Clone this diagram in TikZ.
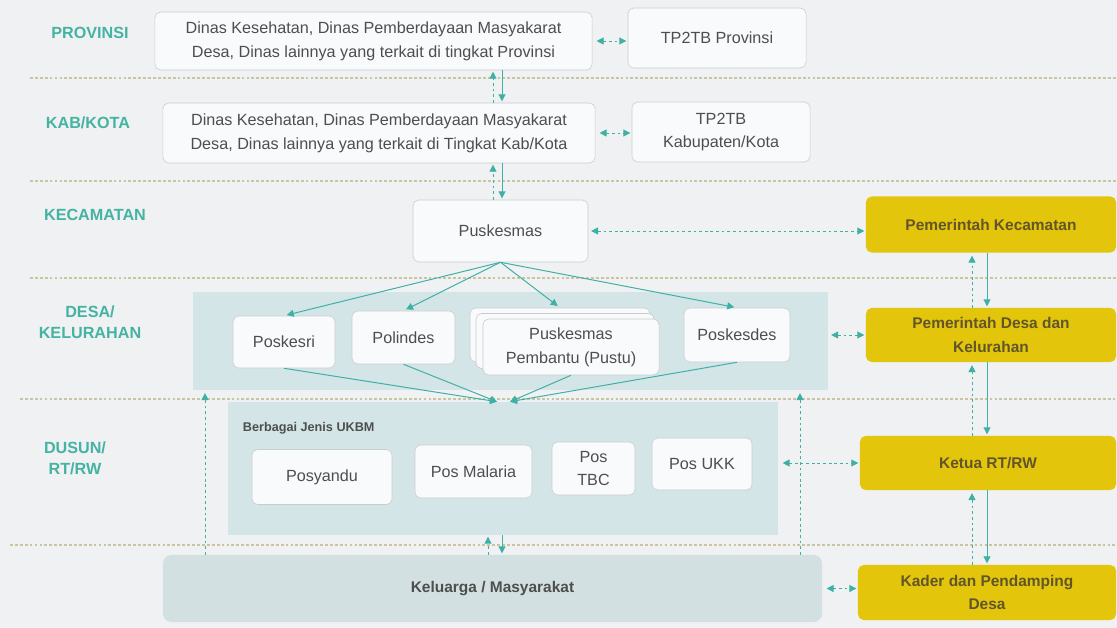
\documentclass[tikz,border=0pt]{standalone}
\usepackage{fontspec}
\setmainfont{Liberation Sans}
\usetikzlibrary{arrows.meta}
\definecolor{bgc}{HTML}{F0F1F3}
\definecolor{boxline}{HTML}{C9CBCE}
\definecolor{boxfill}{HTML}{F9FAFB}
\definecolor{txt}{HTML}{4E4E4E}
\definecolor{bandc}{HTML}{D3E5E6}
\definecolor{kelc}{HTML}{D2E0E2}
\definecolor{ylw}{HTML}{E3C50B}
\definecolor{ytxt}{HTML}{62552A}
\definecolor{tealtxt}{HTML}{45B3A2}
\definecolor{tealln}{HTML}{3FB0A5}
\definecolor{sepc}{HTML}{C9C4A2}
\tikzset{>={Triangle[length=5pt,width=5pt]}}
\tikzset{
  box/.style={draw=boxline, fill=boxfill, rounded corners=4pt, text=txt, align=center,
    font=\fontsize{11.5}{17}\selectfont, inner sep=0pt},
  ybox/.style={fill=ylw, rounded corners=4pt, text=ytxt, align=center,
    font=\fontsize{11}{17}\selectfont\bfseries, inner sep=0pt},
  band/.style={fill=bandc, inner sep=0pt},
  lvl/.style={text=tealtxt, align=center, font=\fontsize{11.5}{15}\selectfont\bfseries},
  sepline/.style={draw=sepc, dash pattern=on 2pt off 1.5pt, line width=0.8pt},
  link/.style={draw=tealln, line width=0.7pt},
  dlink/.style={link, dash pattern=on 2pt off 2pt},
}

\begin{document}
\begin{tikzpicture}[x=0.025cm,y=-0.025cm]
    \fill[bgc] (0,0) rectangle (1117,628);
    \useasboundingbox (0,0) rectangle (1117,628);
    \foreach \yy/\xx in {78/30,181/30,278/30,399/20,545/10}
        \draw[sepline] (\xx,\yy) -- (1117,\yy);

    \node[lvl] (lprov) at (90,33) {PROVINSI};
    \node[lvl] (lkab) at (88,123) {KAB/KOTA};
    \node[lvl] (lkec) at (95,215) {KECAMATAN};
    \node[lvl] (ldesa) at (90,322) {DESA/\\KELURAHAN};
    \node[lvl] (ldusun) at (75,458) {DUSUN/\\RT/RW};

    \node[band, minimum width=15.875cm, minimum height=2.45cm] (desa) at (510.5,341) {};
    \node[band, minimum width=13.75cm, minimum height=3.325cm] (ukbm) at (503,468.5) {};
    \node[anchor=west, text=txt, font=\fontsize{9}{11}\selectfont\bfseries] (ukbmlbl) at (238,428) {Berbagai Jenis UKBM};
    \node[band, fill=kelc, rounded corners=6pt, text=txt, font=\fontsize{11}{14}\selectfont\bfseries,
        minimum width=16.475cm, minimum height=1.675cm] (kel) at (492.5,588.5) {Keluarga / Masyarakat};

    \node[box, minimum width=10.925cm, minimum height=1.45cm] (prov) at (373.5,41)
        {Dinas Kesehatan, Dinas Pemberdayaan Masyakarat\\Desa, Dinas lainnya yang terkait di tingkat Provinsi};
    \node[box, minimum width=4.45cm, minimum height=1.5cm] (tp2prov) at (717,38) {TP2TB Provinsi};
    \node[box, minimum width=10.8cm, minimum height=1.5cm] (kab) at (379,133)
        {Dinas Kesehatan, Dinas Pemberdayaan Masyakarat\\Desa, Dinas lainnya yang terkait di Tingkat Kab/Kota};
    \node[box, minimum width=4.45cm, minimum height=1.5cm] (tp2kab) at (721,132) {TP2TB\\Kabupaten/Kota};
    \node[box, minimum width=4.375cm, minimum height=1.55cm] (pusk) at (500.5,231) {Puskesmas};

    \node[box, minimum width=2.55cm, minimum height=1.3cm] (poskesri) at (284,342) {Poskesri};
    \node[box, minimum width=2.575cm, minimum height=1.325cm] (polindes) at (403.5,337.5) {Polindes};
    \node[box, minimum width=4.5cm, minimum height=1.35cm] (pustuA) at (560,335) {};
    \node[box, minimum width=4.45cm, minimum height=1.375cm] (pustuB) at (565,341) {};
    \node[box, minimum width=4.4cm, minimum height=1.4cm] (pustu) at (571,347) {Puskesmas\\Pembantu (Pustu)};
    \node[box, minimum width=2.65cm, minimum height=1.35cm] (poskesdes) at (737,335) {Poskesdes};

    \node[box, minimum width=3.5cm, minimum height=1.375cm] (posyandu) at (322,477) {Posyandu};
    \node[box, minimum width=2.925cm, minimum height=1.325cm] (malaria) at (473.5,471.5) {Pos Malaria};
    \node[box, minimum width=2.075cm, minimum height=1.325cm] (tbc) at (593.5,468.5) {Pos\\TBC};
    \node[box, minimum width=2.5cm, minimum height=1.3cm] (ukk) at (702,464) {Pos UKK};

    \node[ybox, minimum width=6.25cm, minimum height=1.4cm] (pemkec) at (991,224.5) {Pemerintah Kecamatan};
    \node[ybox, minimum width=6.25cm, minimum height=1.35cm] (pemdesa) at (991,335) {Pemerintah Desa dan\\Kelurahan};
    \node[ybox, minimum width=6.4cm, minimum height=1.35cm] (ketua) at (988,463) {Ketua RT/RW};
    \node[ybox, minimum width=6.45cm, minimum height=1.375cm] (kader) at (987,592.5) {Kader dan Pendamping\\Desa};

    \draw[dlink,<->,shorten <=3pt,shorten >=1pt] (prov.east) -- (prov.east -| tp2prov.west);
    \draw[dlink,<->,shorten <=3pt,shorten >=1pt] (kab.east) -- (kab.east -| tp2kab.west);
    \draw[dlink,->,shorten >=1pt] (kab.north -| 493,0) -- (prov.south -| 493,0);
    \draw[link,->,shorten >=1pt] (prov.south -| 502,0) -- (kab.north -| 502,0);
    \draw[dlink,->,shorten >=1pt] (pusk.north -| 493,0) -- (kab.south -| 493,0);
    \draw[link,->,shorten >=1pt] (kab.south -| 502,0) -- (pusk.north -| 502,0);
    \draw[dlink,<->,shorten <=2pt,shorten >=1pt] (pusk.east) -- (pusk.east -| pemkec.west);

    \foreach \t in {poskesri,polindes,pustuA,poskesdes}
        \draw[link,->,shorten >=2pt] (pusk.south) -- (\t.north);
    \draw[link,->] (poskesri.south) -- (ukbm.north -| 497,0);
    \draw[link,->] (polindes.south) -- (ukbm.north -| 497,0);
    \draw[link,->] (pustu.south) -- (ukbm.north -| 510,0);
    \draw[link,->] (poskesdes.south) -- (ukbm.north -| 510,0);

    \draw[dlink,<->,shorten <=2pt,shorten >=1pt] (pemdesa.west -| desa.east) -- (pemdesa.west);
    \draw[dlink,<->,shorten <=3pt,shorten >=1pt] (ketua.west -| ukbm.east) -- (ketua.west);
    \draw[dlink,<->,shorten <=3pt,shorten >=1pt] (kel.east) -- (kel.east -| kader.west);
    \draw[dlink,->,shorten >=1pt] (kel.north -| 488,0) -- (ukbm.south -| 488,0);
    \draw[link,->,shorten >=1pt] (ukbm.south -| 502,0) -- (kel.north -| 502,0);
    \draw[dlink,->,shorten >=2pt] (kel.north -| 205,0) -- (desa.south -| 205,0);
    \draw[dlink,->,shorten >=2pt] (kel.north -| 800,0) -- (desa.south -| 800,0);

    \foreach \a/\b in {pemkec/pemdesa,pemdesa/ketua,ketua/kader}{
        \draw[dlink,->,shorten >=2pt] (\b.north -| 972,0) -- (\a.south -| 972,0);
        \draw[link,->,shorten >=1pt] (\a.south -| 987,0) -- (\b.north -| 987,0);
    }
\end{tikzpicture}
\end{document}
